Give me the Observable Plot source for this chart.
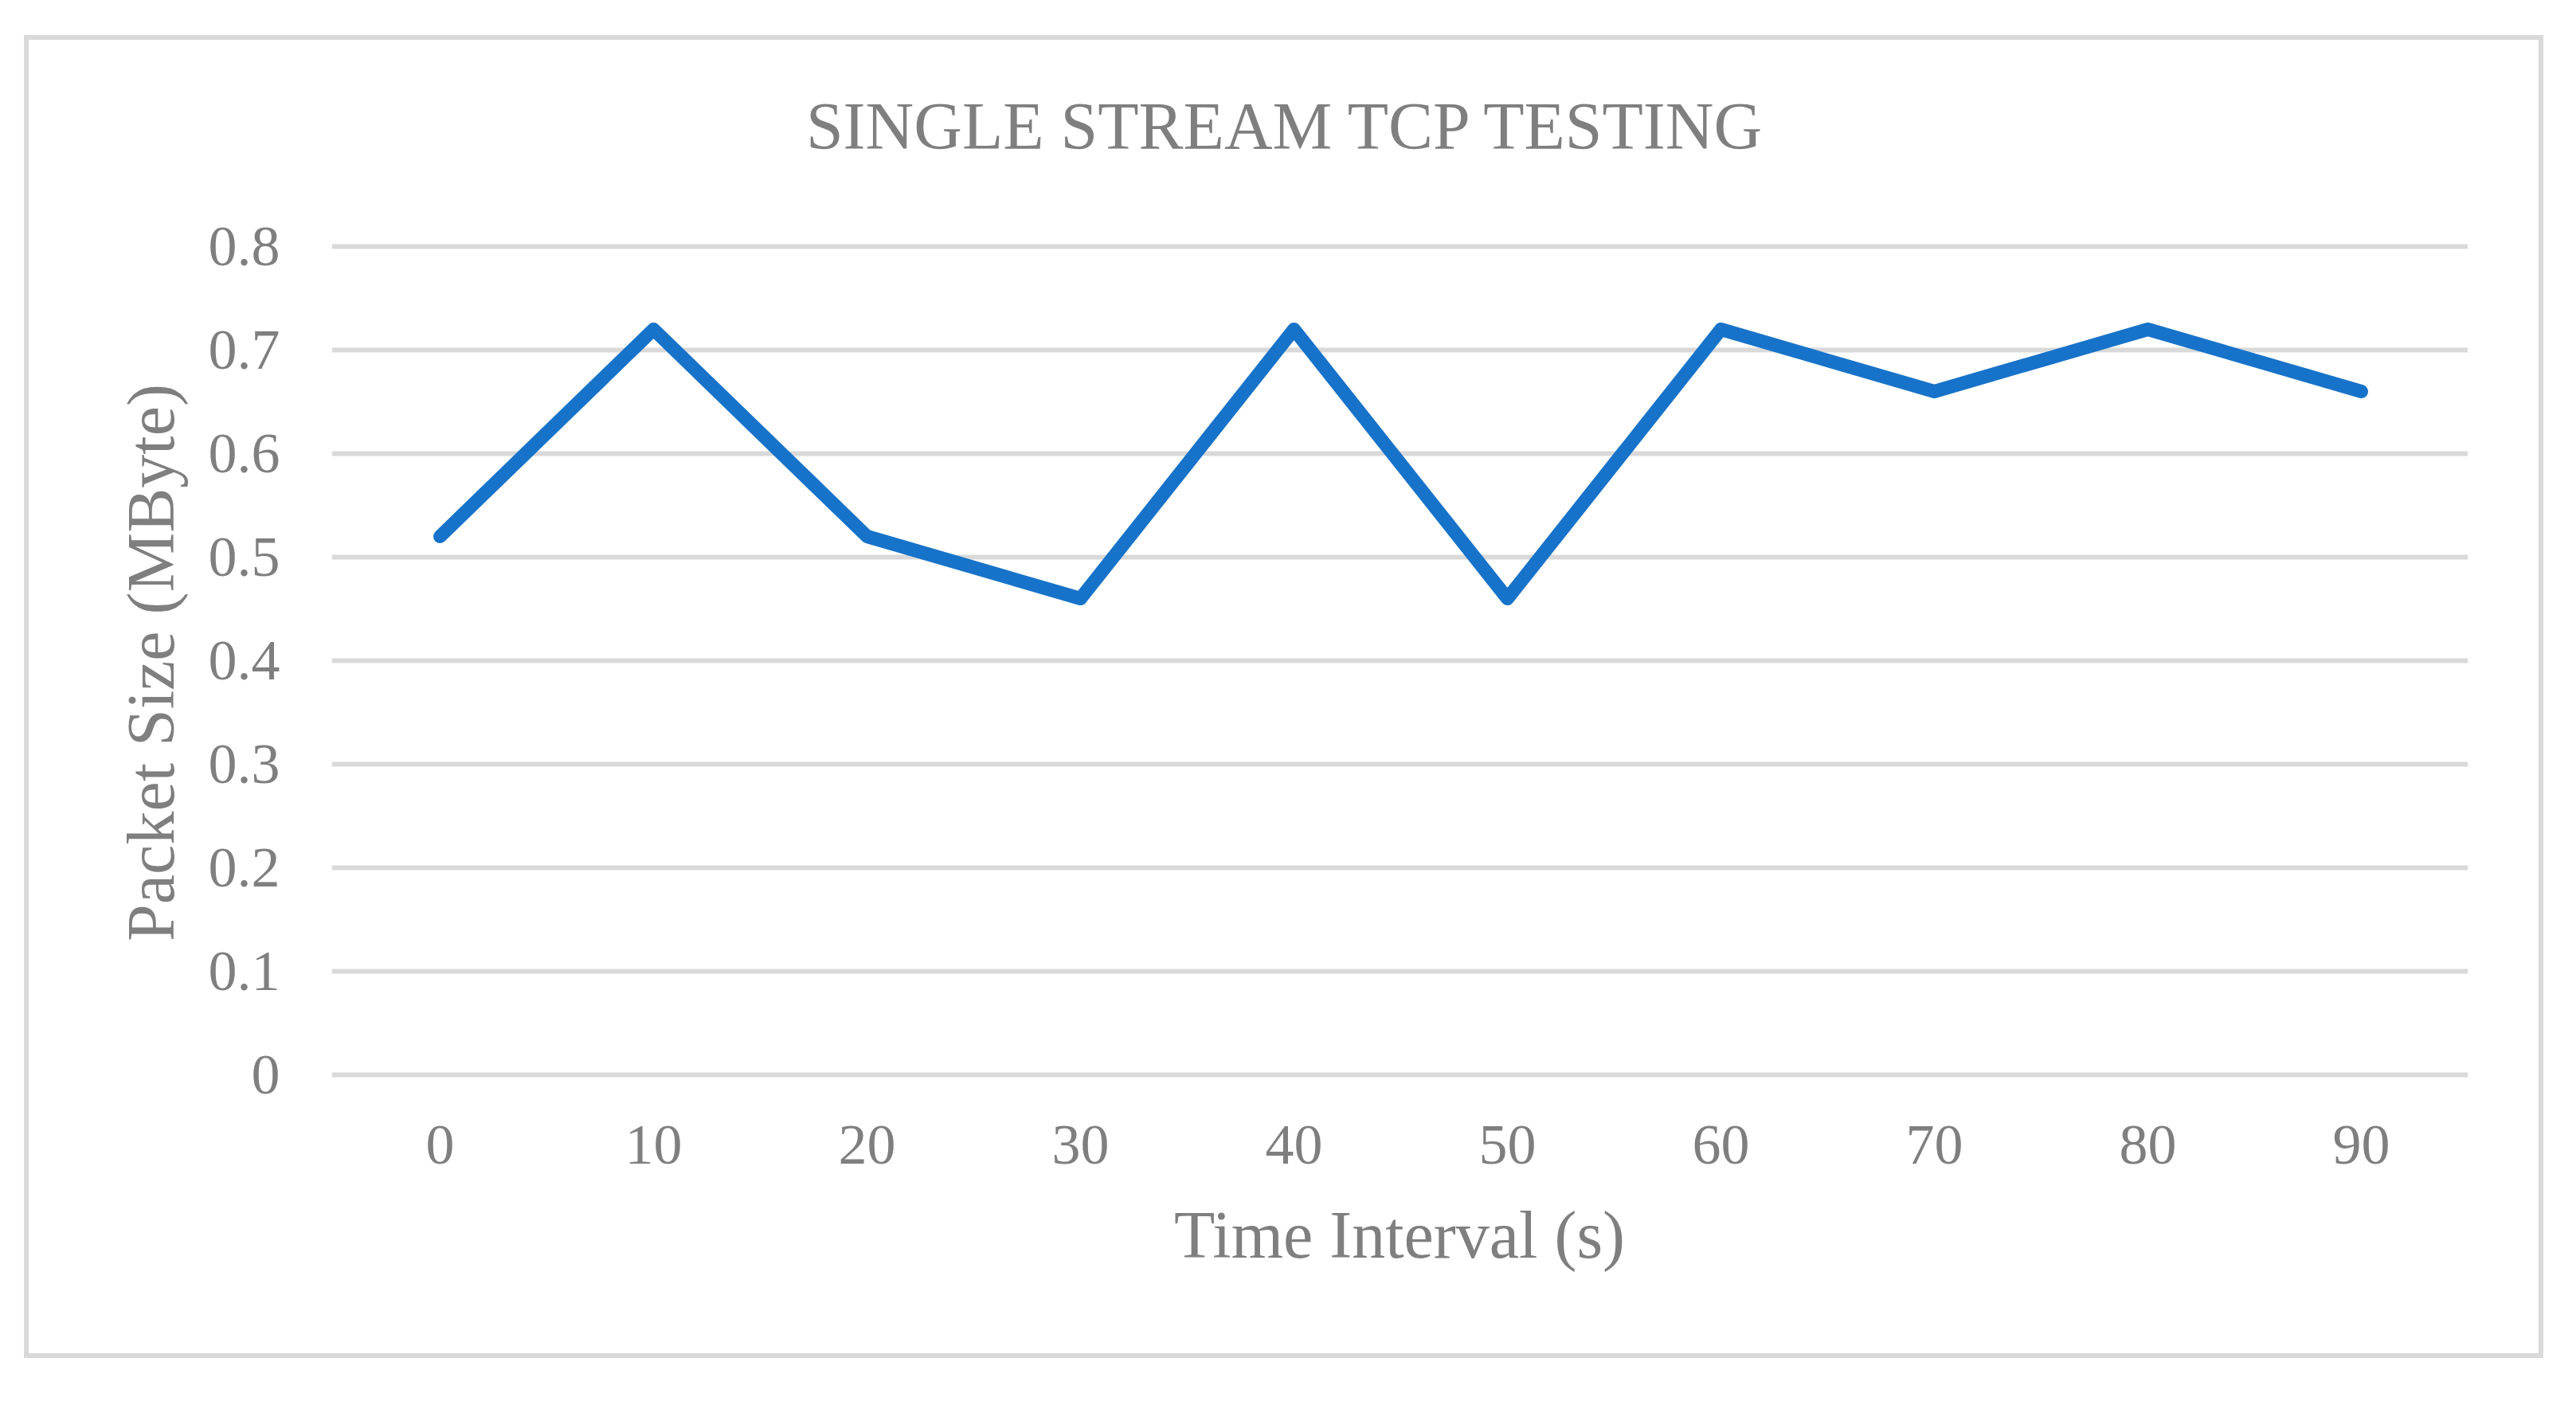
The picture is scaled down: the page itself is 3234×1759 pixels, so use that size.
<!DOCTYPE html>
<html>
<head>
<meta charset="utf-8">
<script src="https://cdn.jsdelivr.net/npm/d3@7"></script>
<script src="https://cdn.jsdelivr.net/npm/@observablehq/plot@0.6"></script>
<style>
  html, body { margin: 0; padding: 0; background: #fff; }
  body { width: 3234px; height: 1759px; position: relative; overflow: hidden; font-family: "Liberation Serif", "Times New Roman", serif; }
  #frame { position: absolute; left: 30px; top: 44px; width: 3163px; height: 1661px; border: 6px solid #d9d9d9; box-sizing: border-box; }
  .t { position: absolute; color: #7f7f7f; font-size: 84px; line-height: 1; white-space: nowrap; }
  #title { left: 1612px; top: 117px; transform: translateX(-50%); }
  #xlabel { left: 1757px; top: 1509px; transform: translateX(-50%); }
  #ylabel { left: 190px; top: 832px; transform: translate(-50%, -50%) rotate(-90deg); }
  #chart { position: absolute; left: 0; top: 230px; }
</style>
</head>
<body>
<div id="frame"></div>
<div id="title" class="t">SINGLE STREAM TCP TESTING</div>
<div id="xlabel" class="t">Time Interval (s)</div>
<div id="ylabel" class="t">Packet Size (MByte)</div>
<div id="chart"></div>
<script>
const timeIntervals = [0, 10, 20, 30, 40, 50, 60, 70, 80, 90];
const packetSizes = [0.52, 0.72, 0.52, 0.46, 0.72, 0.46, 0.72, 0.66, 0.72, 0.66];
const yTicks = [0, 0.1, 0.2, 0.3, 0.4, 0.5, 0.6, 0.7, 0.8];

const data = timeIntervals.map((t, i) => ({t, v: packetSizes[i]}));

const chart = Plot.plot({
  width: 3234,
  height: 1400,
  marginLeft: 417,
  marginRight: 136,
  marginTop: 79,
  marginBottom: 281,
  style: {fontFamily: "'Liberation Serif', 'Times New Roman', serif", fontSize: "72px", color: "#7f7f7f", background: "transparent"},
  x: {type: "point", domain: timeIntervals, padding: 0.5, label: null},
  y: {domain: [0, 0.8], label: null},
  marks: [
    Plot.ruleY(yTicks, {stroke: "#d9d9d9", strokeWidth: 6}),
    Plot.axisX(timeIntervals, {tickSize: 0, tickPadding: 60, label: null, fill: "#7f7f7f", fontSize: 72}),
    Plot.axisY(yTicks, {tickSize: 0, tickPadding: 66, label: null, fill: "#7f7f7f", fontSize: 72, tickFormat: d => d.toString()}),
    Plot.line(data, {x: "t", y: "v", stroke: "#1773c9", strokeWidth: 17, strokeLinejoin: "round", strokeLinecap: "round"})
  ]
});
document.getElementById("chart").appendChild(chart);
</script>
</body>
</html>
